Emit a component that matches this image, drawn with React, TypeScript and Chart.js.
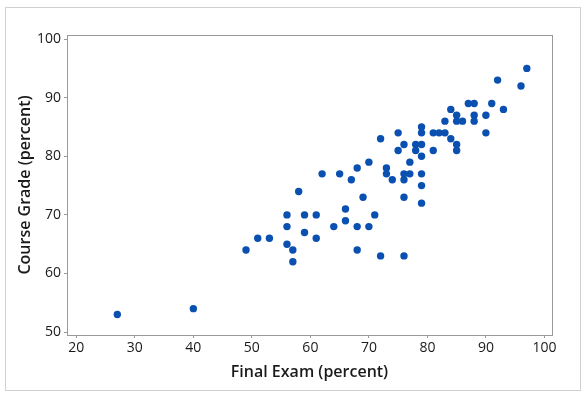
import React, { useEffect, useRef } from "react";
import { Chart, registerables } from "chart.js";

Chart.register(...registerables);

const finalExam = [27, 40, 49, 51, 53, 56, 56, 56, 57, 57, 58, 59, 59, 61, 61, 62, 64, 65, 66, 66, 67, 68, 68, 68, 69, 70, 70, 71, 72, 72, 73, 73, 74, 75, 75, 76, 76, 76, 76, 76, 77, 77, 78, 78, 79, 79, 79, 79, 79, 79, 79, 81, 81, 82, 83, 83, 84, 84, 85, 85, 85, 85, 86, 87, 88, 88, 88, 90, 90, 91, 92, 93, 96, 97];
const courseGrade = [53, 54, 64, 66, 66, 70, 68, 65, 64, 62, 74, 70, 67, 70, 66, 77, 68, 77, 71, 69, 76, 78, 68, 64, 73, 79, 68, 70, 83, 63, 78, 77, 76, 84, 81, 82, 77, 76, 73, 63, 79, 77, 82, 81, 85, 84, 82, 80, 77, 75, 72, 84, 81, 84, 84, 86, 88, 83, 87, 86, 82, 81, 86, 89, 89, 87, 86, 87, 84, 89, 93, 88, 92, 95];
const xTickValues = [20, 30, 40, 50, 60, 70, 80, 90, 100];
const yTickValues = [50, 60, 70, 80, 90, 100];
const xTitle = "Final Exam (percent)";
const yTitle = "Course Grade (percent)";

const framePlugin = {
  id: "frame",
  beforeDraw(chart: any) {
    const ctx = chart.ctx;
    ctx.save();
    ctx.fillStyle = "#ffffff";
    ctx.fillRect(0, 0, chart.width, chart.height);
    ctx.strokeStyle = "#d0d0d0";
    ctx.lineWidth = 1;
    ctx.strokeRect(5.5, 7.5, 575, 383);
    ctx.restore();
  },
  afterDraw(chart: any) {
    const { left, top, right, bottom } = chart.chartArea;
    const ctx = chart.ctx;
    ctx.save();
    ctx.strokeStyle = "#999999";
    ctx.lineWidth = 1;
    ctx.strokeRect(Math.round(left) + 0.5, Math.round(top) + 0.5, Math.round(right - left), Math.round(bottom - top));
    ctx.restore();
  },
};

export default function App() {
  const ref = useRef<HTMLCanvasElement>(null);
  useEffect(() => {
    if (!ref.current) return;
    const points = finalExam.map((x, i) => ({ x, y: courseGrade[i] }));
    const tickFont = { family: "'Open Sans', sans-serif", size: 14 };
    const titleFont = { family: "'Open Sans', sans-serif", size: 16, weight: 600 as any };
    const chart = new Chart(ref.current, {
      type: "scatter",
      data: {
        datasets: [
          {
            data: points,
            backgroundColor: "#0a50b0",
            borderColor: "#0a50b0",
            borderWidth: 0,
            pointRadius: 3.7,
          },
        ],
      },
      plugins: [framePlugin],
      options: {
        responsive: false,
        animation: false,
        layout: { padding: { left: 0, top: 35, right: 34, bottom: 0 } },
        plugins: { legend: { display: false }, tooltip: { enabled: false } },
        scales: {
          x: {
            type: "linear",
            min: 18.4,
            max: 101.3,
            afterBuildTicks: (s: any) => {
              s.ticks = xTickValues.map((v) => ({ value: v }));
            },
            afterFit: (s: any) => {
              s.height = 60;
            },
            grid: { drawOnChartArea: false, drawTicks: true, tickLength: 3, color: "#999999" },
            border: { display: true, color: "#999999" },
            ticks: { color: "#1a1a1a", font: tickFont, padding: 2, maxRotation: 0 },
            title: { display: true, text: xTitle, color: "#1a1a1a", font: titleFont, padding: { top: 0, bottom: 13 } },
          },
          y: {
            type: "linear",
            min: 49.5,
            max: 100.7,
            afterBuildTicks: (s: any) => {
              s.ticks = yTickValues.map((v) => ({ value: v }));
            },
            afterFit: (s: any) => {
              s.width = 67;
            },
            grid: { drawOnChartArea: false, drawTicks: true, tickLength: 3, color: "#999999" },
            border: { display: true, color: "#999999" },
            ticks: { color: "#1a1a1a", font: tickFont, padding: 3 },
            title: { display: true, text: yTitle, color: "#1a1a1a", font: titleFont, padding: { top: 16, bottom: 0 } },
          },
        },
      },
    });
    return () => chart.destroy();
  }, []);
  return (
    <div style={{ position: "absolute", left: 0, top: 0, width: 586, height: 395, background: "#fff" }}>
      <canvas ref={ref} width={586} height={395} style={{ display: "block" }} />
    </div>
  );
}
